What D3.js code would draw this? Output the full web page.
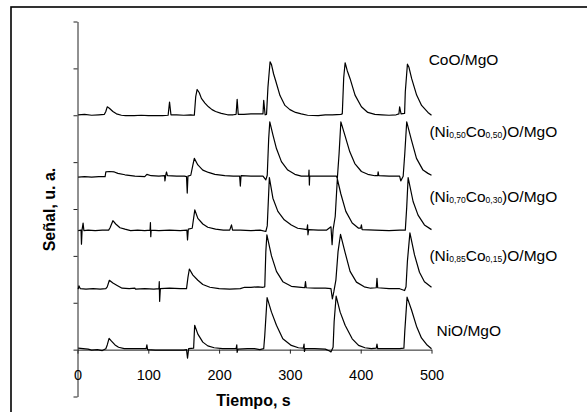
<!DOCTYPE html>
<html>
<head>
<meta charset="utf-8">
<script src="https://cdn.jsdelivr.net/npm/d3@7"></script>
<style>
    body { margin: 0; background: #fff; }
    svg  { display: block; font-family: 'Liberation Sans', Arial, sans-serif; }
</style>
</head>
<body>
<svg id="chart"></svg>
<script>
'use strict';

/*
    Data (time in s, signal in u. a. relative to each trace's own baseline)
*/

const X_TICKS = [0, 100, 200, 300, 400, 500];
const Y_TICKS = [-10, 0, 10, 20, 30, 40, 50, 60, 70];

const SERIES_NAMES = ['CoO', 'Ni50', 'Ni70', 'Ni85', 'NiO'];

// odd entries are subscripts
const SERIES_LABELS = [
    ['CoO/MgO'],
    ['(Ni', '0,50', 'Co', '0,50', ')O/MgO'],
    ['(Ni', '0,70', 'Co', '0,30', ')O/MgO'],
    ['(Ni', '0,85', 'Co', '0,15', ')O/MgO'],
    ['NiO/MgO']
];

// vertical shift of each trace, u. a.
const SERIES_OFFSETS = [50, 36.9, 25.4, 12.9, 0];

// where each label sits, in data units [time, signal]
const LABEL_ANCHORS = [[496, 60.7], [497, 45.3], [497, 31.4], [497, 18.9], [507, 2.9]];

const COO_DATA = [
    [1, 0.1], [10, 0.2], [20, 0.0], [30, 0.1], [38, 0.2], [40, 0.8], [42, 1.8], [45, 1.5],
    [50, 0.8], [55, 0.3], [62, 0.0], [68, -0.1], [80, -0.1], [90, 0.0], [100, -0.1],
    [110, -0.1], [120, -0.1], [128, 0.0], [130, 2.8], [132, 0.1], [140, 0.1], [150, 0.0],
    [160, 0.1], [165, 0.0], [167, 4.0], [169, 5.5], [172, 4.8], [175, 3.6], [180, 2.6],
    [185, 1.8], [190, 1.2], [195, 0.8], [203, 0.4], [212, 0.1], [220, 0.1], [224, 0.2],
    [225.5, 3.4], [227, 0.2], [235, 0.2], [245, 0.3], [255, 0.3], [262, 0.3], [263, 3.2],
    [265, 0.1], [267, 0.2], [269, 6.0], [272, 11.4], [274, 10.8], [277, 8.8], [280, 7.3],
    [286, 4.2], [293, 2.1], [300, 1.2], [308, 0.6], [316, 0.3], [325, 0.0], [340, -0.1],
    [350, 0.1], [360, 0.1], [372, 0.2], [374, 0.3], [376, 8.0], [378, 11.2], [381, 9.5],
    [385, 7.8], [392, 4.3], [401, 1.8], [410, 0.6], [420, 0.2], [430, 0.1], [440, 0.0],
    [450, 0.1], [454, 0.3], [455, 1.8], [457, 0.3], [462, 0.4], [463, 5.0], [466, 10.9],
    [468, 10.3], [472, 7.8], [479, 4.3], [486, 2.1], [495, 0.6], [500, 0.0]
];

const NI50_DATA = [
    [1, -0.1], [10, 0.0], [20, -0.1], [30, 0.0], [39, 0.0], [40, 1.0], [45, 1.1], [52, 1.0],
    [57, 0.7], [67, 0.4], [81, 0.1], [95, 0.0], [98, 0.5], [104, 0.2], [115, 0.1], [123, 0.2],
    [123.5, -0.9], [124.5, 0.2], [125.7, 1.0], [127, 0.2], [140, 0.1], [151, 0.1], [154, 0.0],
    [155, -3.5], [156, 0.1], [160, 0.3], [163, 2.5], [165, 3.9], [170, 2.5], [177, 1.4],
    [185, 0.9], [194, 0.5], [208, 0.2], [220, 0.1], [229, 0.1], [230, -2.0], [231, 0.2],
    [245, 0.1], [262, 0.1], [266, -0.7], [268, 0.3], [270, 8.0], [271.6, 11.7], [276, 8.9],
    [281, 6.0], [288, 3.2], [297, 1.4], [307, 0.5], [316, 0.1], [326.5, 0.1], [327, 1.4],
    [327.5, -1.8], [328, 0.1], [340, 0.1], [355, 0.1], [365.8, 0.1], [367, -0.4], [369.5, 5.0],
    [372, 11.7], [377.5, 8.9], [384.6, 5.3], [391.7, 2.8], [401, 1.1], [410, 0.5], [420, 0.2],
    [424, 0.2], [424.6, 1.0], [425.5, 0.2], [440, 0.1], [455, 0.1], [456.6, -0.9], [460, 0.1],
    [462.3, 5.0], [465, 11.7], [471.7, 7.8], [478.8, 3.9], [488, 1.4], [495, 0.7], [500, 0.3]
];

const NI70_DATA = [
    [1, 0.0], [5, 0.1], [5.6, -2.9], [6.5, 0.2], [7.9, 1.6], [9, 0.0], [15, 0.1], [25, 0.0],
    [35, 0.1], [44, 0.1], [46, 0.6], [50, 2.1], [54, 1.4], [60, 0.6], [67, 0.3], [75, 0.0],
    [85, 0.1], [95, 0.0], [102.5, 0.1], [103, 1.7], [103.5, -1.3], [104, 0.1], [115, 0.0],
    [130, 0.1], [145, 0.0], [154.5, 0.1], [155.4, -2.0], [156.5, 0.3], [162, 0.5], [165.7, 4.4],
    [170, 2.6], [177, 1.4], [184, 0.7], [195, 0.3], [206, 0.1], [215, 0.1], [217.5, 1.2],
    [219, 0.1], [230, 0.1], [245, 0.0], [258, 0.1], [266, -0.2], [268, 1.0], [271, 11.3],
    [276, 6.9], [283, 4.1], [292, 2.3], [302, 1.2], [311, 0.5], [320, 0.3], [324, 0.2],
    [325, 1.2], [325.5, -0.9], [326.5, 0.2], [340, 0.1], [352, 0.1], [358, 0.8], [359.6, -3.0],
    [361, 0.2], [364, 3.0], [367, 11.0], [372, 7.8], [379, 4.1], [388, 1.6], [397, 0.5],
    [400, 0.5], [401, 1.2], [402, 0.2], [420, 0.1], [440, 0.0], [455, 0.1], [463, 0.1],
    [465, 5.0], [467, 11.3], [474, 6.2], [481, 3.3], [490, 1.2], [500, 0.2]
];

const NI85_DATA = [
    [1, 0.0], [2, 0.7], [4, 0.1], [12, 0.0], [22, 0.1], [32, 0.0], [40, 0.1], [42, 0.5],
    [45, 1.9], [50, 1.3], [56, 0.8], [63, 0.2], [73, 0.1], [81, 0.2], [82, 0.0], [95, 0.1],
    [108, 0.0], [115, 0.1], [115.5, 1.6], [116, -2.6], [117, 0.1], [130, 0.2], [145, 0.1],
    [154, 0.1], [156, 2.5], [158, 4.3], [163, 3.0], [170, 1.9], [177, 1.0], [187, 0.4],
    [200, 0.1], [215, 0.0], [230, 0.1], [236, 0.4], [245, 0.4], [255, 0.5], [262, 0.4],
    [264.5, 0.5], [266, 8.0], [267.5, 11.6], [274, 7.1], [281, 3.8], [290, 1.6], [302, 0.6],
    [316, 0.4], [321, 0.3], [322, 1.6], [323, 0.3], [335, 0.2], [350, 0.2], [358, 0.1],
    [360, -2.1], [362, -0.6], [365, 2.0], [368, 8.0], [371.5, 11.7], [378, 7.8], [385, 3.8],
    [394, 1.5], [405, 0.5], [414, 0.2], [422, 0.3], [423, 2.3], [424, 0.3], [440, 0.1],
    [455, 0.1], [462, -0.3], [464, 0.5], [466, 6.0], [469.5, 12.0], [476, 7.3], [483, 3.6],
    [490, 1.6], [500, 0.4]
];

const NIO_DATA = [
    [1, 0.3], [8, 0.2], [15, 0.1], [20, -0.1], [28, 0.0], [35, -0.2], [40, 0.2], [42, 1.0],
    [44.6, 2.4], [48, 1.8], [53, 1.0], [58, 0.5], [66, 0.2], [75, 0.2], [85, 0.2], [97, 0.2],
    [98, 1.0], [99, 0.0], [110, -0.1], [125, -0.1], [140, -0.1], [150, -0.1], [154, 0.0],
    [155.4, -1.8], [157, 0.2], [164, 0.3], [165.5, 5.2], [170, 3.3], [177, 1.6], [184, 0.8],
    [193, 0.4], [205, 0.2], [215, 0.2], [224, 0.2], [225, 1.0], [225.5, -0.6], [226.5, 0.1],
    [240, 0.2], [250, 0.2], [257.5, 0.0], [263, 0.2], [264.5, 3.0], [267.8, 11.1], [274, 8.0],
    [281, 5.2], [290, 2.3], [302, 0.9], [312, 0.4], [319, 0.3], [320, 1.2], [320.5, -0.4],
    [321.5, 0.2], [335, 0.2], [350, 0.1], [356, -0.3], [358, -0.5], [361, 0.5], [362.5, 6.0],
    [365.3, 11.4], [371, 8.0], [378, 5.2], [388, 2.3], [397, 0.9], [406, 0.4], [415, 0.2],
    [422, 0.3], [423, 1.2], [424, 0.2], [440, 0.2], [455, 0.2], [461, 0.3], [462.3, 4.0],
    [465.5, 11.2], [471.7, 8.5], [478.8, 5.0], [485.8, 2.5], [493, 1.1], [500, 0.2]
];

const SERIES_DATA = [COO_DATA, NI50_DATA, NI70_DATA, NI85_DATA, NIO_DATA];

/*
    Constants
*/

const CHART = d3.select('#chart');

const DIMENSIONS = Object.freeze({
    WIDTH  : 587,
    HEIGHT : 412
});

const PLOT = Object.freeze({
    LEFT   : 77.5,
    RIGHT  : 431.5,
    TOP    : 21.5,
    BOTTOM : 396.5
});

const FONT_SIZE = Object.freeze({
    TICK  : 14.5,
    TITLE : 16,
    LABEL : 15.5,
    SUB   : 8.5
});

/*
    Variables
*/

let x = d3.scaleLinear()
            .domain([0, 500])
            .range([PLOT.LEFT, PLOT.RIGHT]);

let y = d3.scaleLinear()
            .domain([-10, 70])
            .range([PLOT.BOTTOM, PLOT.TOP]);

/*
    D3 code
*/

CHART.attr('width', DIMENSIONS.WIDTH)
     .attr('height', DIMENSIONS.HEIGHT);

// outer frame (open on the right and bottom, cut by the picture edge)
CHART.append('rect')
       .attr('x', 11)
       .attr('y', 7)
       .attr('width', 640)
       .attr('height', 460)
       .attr('fill', 'none')
       .attr('stroke', '#000')
       .attr('stroke-width', 1.6);

// y axis, no labels
const Y_AXIS = CHART.append('g')
                      .attr('transform', `translate(${PLOT.LEFT},0)`)
                      .call(d3.axisLeft(y)
                                .tickValues(Y_TICKS)
                                .tickSize(4)
                                .tickSizeOuter(0)
                                .tickFormat(''));

// x axis crosses at signal 0
const X_AXIS = CHART.append('g')
                      .attr('transform', `translate(0,${y(0)})`)
                      .call(d3.axisBottom(x)
                                .tickValues(X_TICKS)
                                .tickSize(4)
                                .tickSizeOuter(0));

X_AXIS.selectAll('text')
        .attr('y', 30)
        .attr('dy', 0)
        .attr('fill', '#000')
        .style('font-size', FONT_SIZE.TICK + 'px')
        .style('font-family', "'Liberation Sans', Arial, sans-serif");

[X_AXIS, Y_AXIS].forEach(axis => {
    axis.selectAll('path, line')
          .attr('stroke', '#222')
          .attr('stroke-width', 1);
});

// traces
const LINE = d3.line();

SERIES_DATA.forEach((data, i) => {
    CHART.append('path')
           .datum(data)
           .attr('class', 'trace ' + SERIES_NAMES[i])
           .attr('fill', 'none')
           .attr('stroke', '#000')
           .attr('stroke-width', 1.2)
           .attr('stroke-linejoin', 'round')
           .attr('d', LINE.x(d => x(d[0])).y(d => y(d[1] + SERIES_OFFSETS[i])));
});

// trace labels, with subscripts
SERIES_LABELS.forEach((parts, i) => {
    const TEXT = CHART.append('text')
                        .attr('x', x(LABEL_ANCHORS[i][0]))
                        .attr('y', y(LABEL_ANCHORS[i][1]))
                        .attr('fill', '#000')
                        .style('font-size', FONT_SIZE.LABEL + 'px');
    parts.forEach((part, k) => {
        const SUB = k % 2 === 1;
        TEXT.append('tspan')
              .attr('dy', SUB ? 1 : (k > 0 ? -1 : 0))
              .style('font-size', (SUB ? FONT_SIZE.SUB : FONT_SIZE.LABEL) + 'px')
              .text(part);
    });
});

// axis titles
CHART.append('text')
       .attr('x', x(250) - 1)
       .attr('y', 406)
       .attr('text-anchor', 'middle')
       .style('font-size', FONT_SIZE.TITLE + 'px')
       .style('font-weight', 'bold')
       .text('Tiempo, s');

CHART.append('text')
       .attr('transform', `translate(55,${y(30) + 0.5}) rotate(-90)`)
       .attr('text-anchor', 'middle')
       .style('font-size', FONT_SIZE.TITLE + 'px')
       .style('font-weight', 'bold')
       .text('Señal, u. a.');
</script>
</body>
</html>
